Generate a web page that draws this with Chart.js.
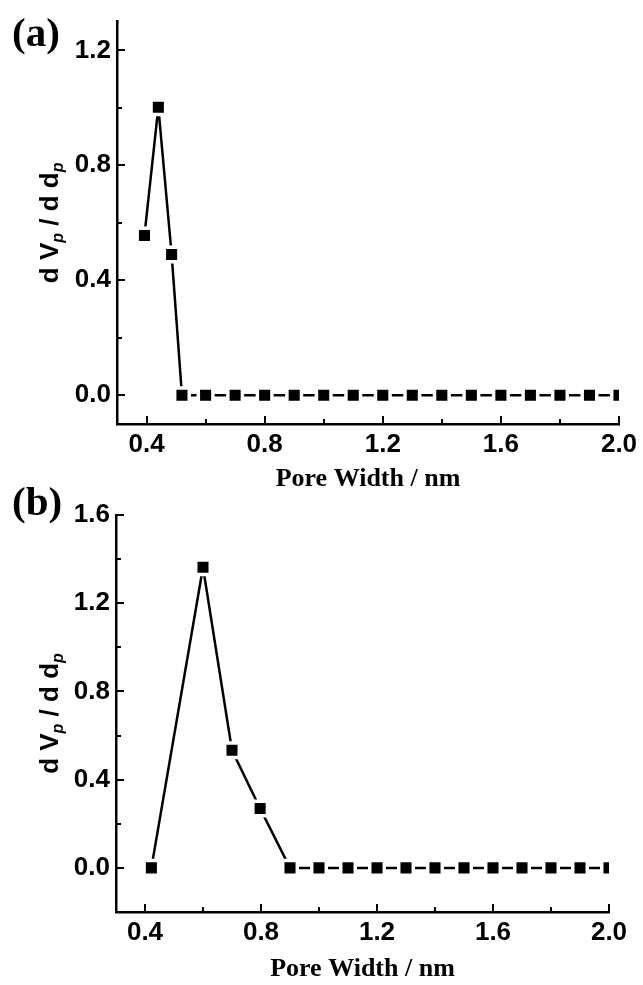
<!DOCTYPE html>
<html>
<head>
<meta charset="utf-8">
<script src="https://cdn.jsdelivr.net/npm/chart.js@4.4.0/dist/chart.umd.min.js"></script>
<style>
  body { margin: 0; background: #fff; width: 643px; height: 985px; position: relative; overflow: hidden; }
  .panel { position: absolute; left: 0; width: 643px; }
  #wrapA { top: 0; height: 495px; }
  #wrapB { top: 470px; height: 515px; }
  canvas { display: block; }
</style>
</head>
<body>
<div class="panel" id="wrapA"><canvas id="chartA" width="643" height="495"></canvas></div>
<div class="panel" id="wrapB"><canvas id="chartB" width="643" height="515"></canvas></div>
<script>
// Pore size distribution, sample (a)
const poreWidthA = [0.393, 0.44, 0.485, 0.52, 0.6, 0.7, 0.8, 0.9, 1.0, 1.1, 1.2, 1.3, 1.4, 1.5, 1.6, 1.7, 1.8, 1.9, 2.0];
const dVdA = [0.556, 1.002, 0.49, 0, 0, 0, 0, 0, 0, 0, 0, 0, 0, 0, 0, 0, 0, 0, 0];

// Pore size distribution, sample (b)
const poreWidthB = [0.422, 0.6, 0.7, 0.797, 0.9, 1.0, 1.1, 1.2, 1.3, 1.4, 1.5, 1.6, 1.7, 1.8, 1.9, 2.0];
const dVdB = [0, 1.363, 0.533, 0.269, 0, 0, 0, 0, 0, 0, 0, 0, 0, 0, 0, 0];

// Axis ticks
const xTicks = [0.4, 0.8, 1.2, 1.6, 2.0];
const xMinorTicks = [0.6, 1.0, 1.4, 1.8];
const yTicksA = [0.0, 0.4, 0.8, 1.2];
const yMinorTicksA = [0.2, 0.6, 1.0];
const yTicksB = [0.0, 0.4, 0.8, 1.2, 1.6];
const yMinorTicksB = [0.2, 0.6, 1.0, 1.4];

const SANS = '"Liberation Sans", Arial, sans-serif';
const SERIF = '"Liberation Serif", "Times New Roman", serif';

// Inward tick marks, rotated y title and panel letter
const axisDecor = {
  id: 'axisDecor',
  afterDraw(chart, args, opts) {
    const { ctx, chartArea: a, scales: { x, y } } = chart;
    ctx.save();
    ctx.strokeStyle = '#000';
    ctx.lineWidth = 2;
    ctx.beginPath();
    const tickX = (v, len) => {
      const px = Math.round(x.getPixelForValue(v));
      ctx.moveTo(px, a.bottom);
      ctx.lineTo(px, a.bottom - len);
    };
    const tickY = (v, len) => {
      const py = Math.round(y.getPixelForValue(v));
      ctx.moveTo(a.left, py);
      ctx.lineTo(a.left + len, py);
    };
    xTicks.forEach(v => tickX(v, 8));
    xMinorTicks.forEach(v => tickX(v, 5));
    opts.yMajor.forEach(v => tickY(v, 8));
    opts.yMinor.forEach(v => tickY(v, 5));
    ctx.stroke();

    // y title: d V_p / d d_p
    const main = 'bold 26px ' + SANS;
    const sub = 'italic bold 16px ' + SANS;
    const parts = [
      { t: 'd ', f: main, dy: 0 },
      { t: 'V', f: main, dy: 0 },
      { t: 'p', f: sub, dy: 5 },
      { t: ' / d ', f: main, dy: 0 },
      { t: 'd', f: main, dy: 0 },
      { t: 'p', f: sub, dy: 5 }
    ];
    let total = 0;
    parts.forEach(p => { ctx.font = p.f; p.w = ctx.measureText(p.t).width; total += p.w; });
    ctx.translate(opts.titleX, (a.top + a.bottom) / 2);
    ctx.rotate(-Math.PI / 2);
    ctx.fillStyle = '#000';
    ctx.textBaseline = 'alphabetic';
    let cx = -total / 2;
    parts.forEach(p => {
      ctx.font = p.f;
      ctx.fillText(p.t, cx, p.dy);
      cx += p.w;
    });
    ctx.setTransform(1, 0, 0, 1, 0, 0);

    ctx.font = 'bold 41px ' + SERIF;
    ctx.fillText(opts.label, 12, opts.labelY);
    ctx.restore();
  }
};

function buildChart(id, xs, ys, cfg) {
  const canvas = document.getElementById(id);
  const H = canvas.height;
  return new Chart(canvas.getContext('2d'), {
    type: 'scatter',
    data: {
      datasets: [{
        data: xs.map((x, i) => ({ x: x, y: ys[i] })),
        showLine: true,
        borderColor: '#000',
        borderWidth: 2.5,
        pointStyle: 'rect',
        pointRadius: 10.3,
        pointBackgroundColor: '#000',
        pointBorderColor: '#fff',
        pointBorderWidth: 3.5,
        clip: 0
      }]
    },
    options: {
      responsive: false,
      animation: false,
      events: [],
      layout: { padding: { top: cfg.top, right: 643 - cfg.right, bottom: 0, left: 0 } },
      plugins: {
        legend: { display: false },
        tooltip: { enabled: false },
        axisDecor: {
          yMajor: cfg.yTicks,
          yMinor: cfg.yMinor,
          label: cfg.label,
          labelY: cfg.labelY,
          titleX: 58
        }
      },
      scales: {
        x: {
          type: 'linear',
          min: 0.3,
          max: 2.0,
          afterBuildTicks: s => { s.ticks = xTicks.map(v => ({ value: v })); },
          afterFit: s => { s.height = H - cfg.bottom; },
          grid: { display: false, drawTicks: false },
          border: { display: true, color: '#000', width: 2.5 },
          ticks: {
            color: '#000',
            padding: 5,
            maxRotation: 0,
            autoSkip: false,
            font: { family: SANS, size: 26, weight: 'bold' },
            callback: v => v.toFixed(1)
          },
          title: {
            display: true,
            text: 'Pore Width / nm',
            color: '#000',
            padding: 0,
            font: { family: SERIF, size: 26, weight: 'bold' }
          }
        },
        y: {
          type: 'linear',
          min: cfg.yMin,
          max: cfg.yMax,
          afterBuildTicks: s => { s.ticks = cfg.yTicks.map(v => ({ value: v })); },
          afterFit: s => { s.width = cfg.left; },
          grid: { display: false, drawTicks: false },
          border: { display: true, color: '#000', width: 2.5 },
          ticks: {
            color: '#000',
            padding: 6,
            font: { family: SANS, size: 26, weight: 'bold' },
            callback: v => v.toFixed(1)
          }
        }
      }
    },
    plugins: [axisDecor]
  });
}

buildChart('chartA', poreWidthA, dVdA, {
  top: 18, bottom: 424, left: 117, right: 619,
  yMin: -0.1, yMax: 1.3, yTicks: yTicksA, yMinor: yMinorTicksA,
  label: '(a)', labelY: 46
});

buildChart('chartB', poreWidthB, dVdB, {
  top: 45, bottom: 442, left: 116, right: 609,
  yMin: -0.2, yMax: 1.6, yTicks: yTicksB, yMinor: yMinorTicksB,
  label: '(b)', labelY: 45
});
</script>
</body>
</html>
